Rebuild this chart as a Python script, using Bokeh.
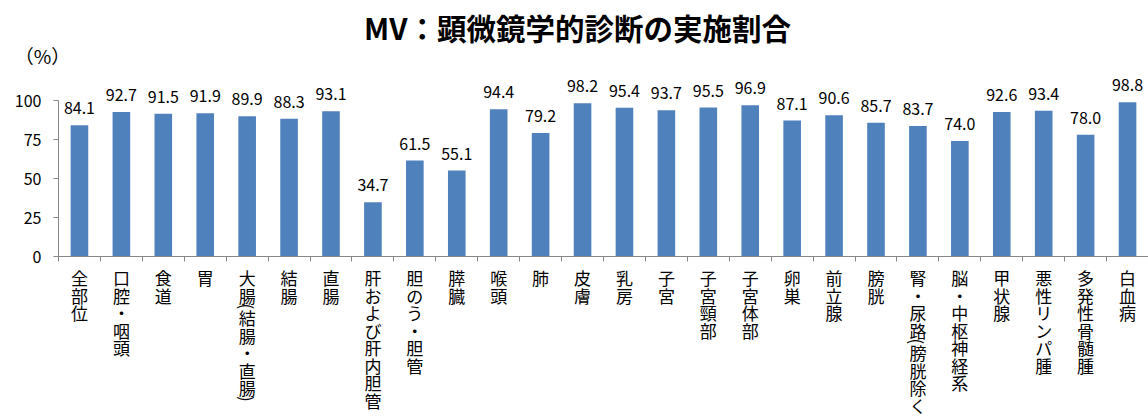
import math
from bokeh.plotting import figure
from bokeh.models import (ColumnDataSource, LabelSet, Label, Range1d, FixedTicker,
                          LinearAxis)
from bokeh.core.properties import value
from bokeh.embed import file_html
from bokeh.resources import INLINE

chart_title = "MV：顕微鏡学的診断の実施割合"
unit_label = "（%）"
categories = ["全部位", "口腔・咽頭", "食道", "胃", "大腸(結腸・直腸)", "結腸", "直腸",
              "肝および肝内胆管", "胆のう・胆管", "膵臓", "喉頭", "肺", "皮膚", "乳房",
              "子宮", "子宮頸部", "子宮体部", "卵巣", "前立腺", "膀胱", "腎・尿路(膀胱除く",
              "脳・中枢神経系", "甲状腺", "悪性リンパ腫", "多発性骨髄腫", "白血病"]
values = [84.1, 92.7, 91.5, 91.9, 89.9, 88.3, 93.1, 34.7, 61.5, 55.1, 94.4, 79.2, 98.2,
          95.4, 93.7, 95.5, 96.9, 87.1, 90.6, 85.7, 83.7, 74.0, 92.6, 93.4, 78.0, 98.8]
y_ticks = [0, 25, 50, 75, 100]

FONT = "Noto Sans CJK JP"
BAR = "#4F81BD"
AXIS = "#868686"

W, H = 1148, 419
PX0, PY0 = 58, 256          # pixel position of the origin (x=0, y=0)
n = len(categories)
SX = (W - PX0) / n          # px per category
SY = 1.56                   # px per percent

xs = [i + 0.5 for i in range(n)]
src = ColumnDataSource(dict(x=xs, v=values, lab=[f"{v:.1f}" for v in values]))

p = figure(width=W, height=H,
           x_range=Range1d(-PX0 / SX, n), y_range=Range1d(-(H - PY0) / SY, PY0 / SY),
           output_backend="svg", toolbar_location=None,
           x_axis_type=None, y_axis_type=None,
           min_border=0, min_border_left=0, min_border_right=0,
           min_border_top=0, min_border_bottom=0)
p.outline_line_color = None
p.grid.visible = False
p.background_fill_color = "white"
p.border_fill_color = "white"

p.vbar(x="x", top="v", width=0.42, source=src, fill_color=BAR, line_color=None)

# x axis: boundary ticks only, fixed at y = 0
xa = LinearAxis(fixed_location=0, bounds=(0, n),
                ticker=FixedTicker(ticks=[], minor_ticks=list(range(n + 1))))
xa.axis_line_color = AXIS
xa.minor_tick_line_color = AXIS
xa.minor_tick_out = 5
xa.minor_tick_in = 0
xa.major_tick_line_color = None
xa.major_label_text_font_size = "0px"
p.add_layout(xa, "below")

ya = LinearAxis(fixed_location=0, bounds=(0, 100),
                ticker=FixedTicker(ticks=y_ticks, minor_ticks=[]))
ya.axis_line_color = AXIS
ya.major_tick_line_color = AXIS
ya.major_tick_out = 5
ya.major_tick_in = 0
ya.minor_tick_line_color = None
ya.major_label_text_font = FONT
ya.major_label_text_font_size = "16px"
ya.major_label_text_color = "black"
ya.major_label_standoff = 12
p.add_layout(ya, "left")

# value labels
p.add_layout(LabelSet(x="x", y="v", text="lab", source=src, y_offset=11,
                      text_align="center", text_baseline="alphabetic",
                      text_font=value(FONT), text_font_size="16px", text_color="black"))

# vertical category labels (one glyph per row, top to bottom)
STEP = 17.5
TOP = 12.5
rows = dict(x=[], y=[], ch=[], dy=[], ang=[])
for i, cat in enumerate(categories):
    cum = 0.0
    for ch in cat:
        h = 0.28 if ch in "()" else 1.0
        c = cum + h / 2
        rows["x"].append(xs[i])
        rows["y"].append(0)
        rows["ch"].append(ch)
        rows["dy"].append(-(TOP + c * STEP))
        rows["ang"].append(-math.pi / 2 if ch in "()" else 0.0)
        cum += h
csrc = ColumnDataSource(rows)
p.add_layout(LabelSet(x="x", y="y", text="ch", source=csrc, y_offset="dy", angle="ang",
                      text_align="center", text_baseline="middle",
                      text_font=value(FONT), text_font_size="17px", text_color="black"))

p.add_layout(Label(x=(42 - PX0) / SX, y=(PY0 - 55) / SY, text=unit_label,
                   text_align="center", text_baseline="middle", text_font=FONT,
                   text_font_size="19px", text_color="black"))
p.add_layout(Label(x=(577 - PX0) / SX, y=(PY0 - 26) / SY, text=chart_title,
                   text_align="center", text_baseline="middle", text_font=FONT,
                   text_font_size="29.5px", text_font_style="bold", text_color="black"))

open("out.html", "w").write(file_html(p, INLINE))
